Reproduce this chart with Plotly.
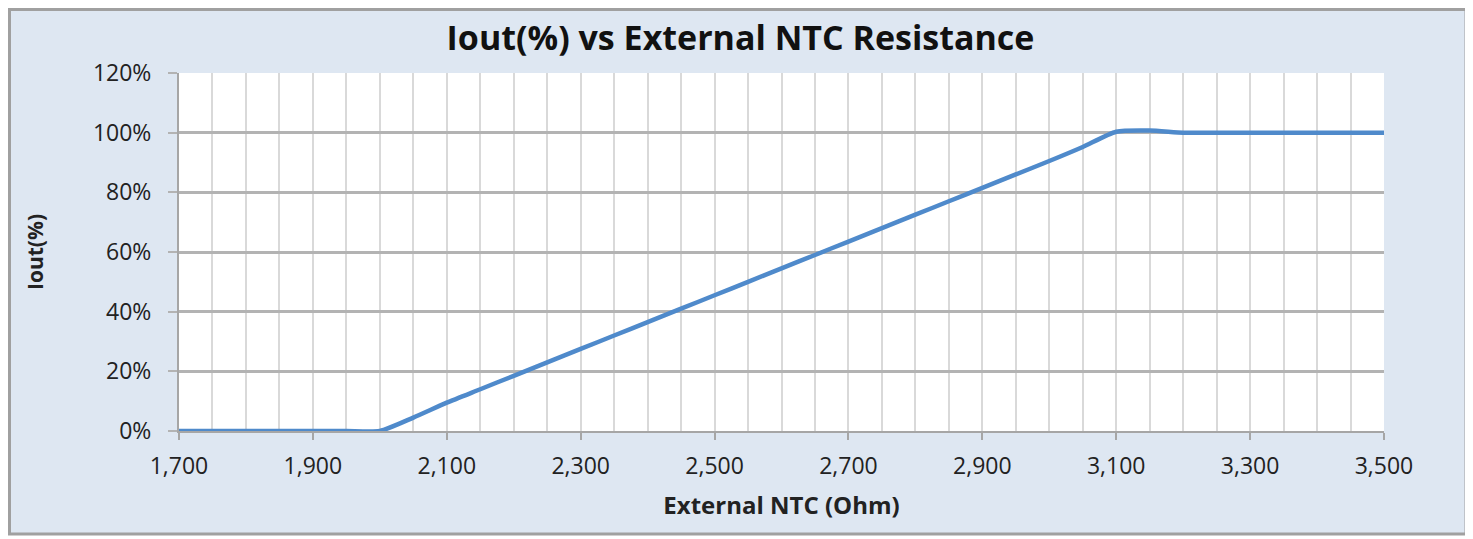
import plotly.graph_objects as go

resistance_ohm = [1700, 1750, 1800, 1850, 1900, 1950, 2000, 2050, 2100, 2150, 2200, 2250,
                  2300, 2350, 2400, 2450, 2500, 2550, 2600, 2650, 2700, 2750, 2800, 2850,
                  2900, 2950, 3000, 3050, 3100, 3150, 3200, 3250, 3300, 3350, 3400, 3450, 3500]
iout_pct = [0, 0, 0, 0, 0, 0, 0, 4.5, 9.5, 14, 18.5, 23,
            27.5, 32, 36.5, 41, 45.5, 50, 54.5, 59, 63.5, 68, 72.5, 77,
            81.5, 86, 90.5, 95.2, 100.3, 100.7, 100, 100, 100, 100, 100, 100, 100]

OFF = 8  # page body margin
W, H = 1473 - OFF, 539 - OFF
# plot area in screen pixels
L, R, T, B = 179, 1384, 73, 431
l, r, t, b = L - OFF, R - OFF, T - OFF, B - OFF

def px(x):
    return (x - OFF - l) / (r - l)

def py(y):
    return (b - (y - OFF)) / (b - t)

fig = go.Figure()
fig.add_trace(go.Scatter(
    x=resistance_ohm, y=iout_pct, mode="lines",
    line=dict(color="#4f8acb", width=4.5, shape="spline", smoothing=0.6),
    showlegend=False, hoverinfo="x+y"))

font_family = "Open Sans, Lato, sans-serif"
fig.update_layout(
    width=W, height=H,
    margin=dict(l=l, r=W - r, t=t, b=H - b),
    paper_bgcolor="white",
    plot_bgcolor="white",
    font=dict(family=font_family, color="#222222", size=23),
    title=dict(text="<b>Iout(%) vs External NTC Resistance</b>",
               x=0.5, xanchor="center", y=1 - (38 - OFF) / H, yanchor="middle",
               font=dict(size=34, family=font_family, color="#111111")),
    xaxis=dict(range=[1700, 3500], dtick=200, tick0=1700, tickformat=",",
               showgrid=True, gridcolor="#d9d9d9", gridwidth=2,
               minor=dict(dtick=50, tick0=1700, showgrid=True, gridcolor="#d9d9d9", gridwidth=2),
               ticks="outside", ticklen=7, tickcolor="#a6a6a6", tickwidth=2,
               showline=True, linecolor="#a6a6a6", linewidth=2, mirror=False,
               zeroline=False, tickfont=dict(size=23), ticklabelstandoff=6,
               title=dict(text="<b>External NTC (Ohm)</b>", font=dict(size=24), standoff=18)),
    yaxis=dict(range=[0, 120], dtick=20, ticksuffix="%",
               showgrid=True, gridcolor="#b3b3b3", gridwidth=3,
               ticks="outside", ticklen=9, tickcolor="#b3b3b3", tickwidth=2,
               showline=True, linecolor="#a6a6a6", linewidth=2,
               zeroline=False, tickfont=dict(size=23), ticklabelstandoff=12,
               title=dict(text="<b>Iout(%)</b>", font=dict(size=21), standoff=44)),
)

fig.add_shape(type="rect", xref="paper", yref="paper", layer="below",
              x0=px(OFF + 1.5), x1=px(1466), y0=py(534), y1=py(OFF + 1.5),
              line=dict(color="#a0a0a0", width=3), fillcolor="#dee7f2")
fig.add_shape(type="rect", xref="paper", yref="paper", layer="below",
              x0=0, x1=1, y0=0, y1=1, line=dict(width=0), fillcolor="white")

fig.write_html("out.html")
